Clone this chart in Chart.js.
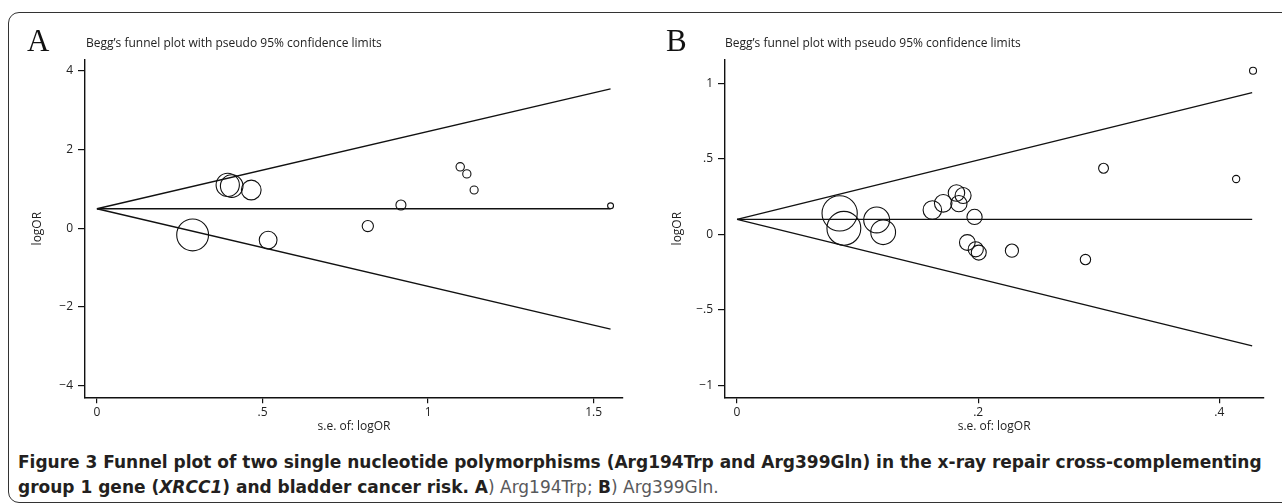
<!DOCTYPE html>
<html>
<head>
<meta charset="utf-8">
<script src="https://cdn.jsdelivr.net/npm/chart.js@4.4.1/dist/chart.umd.min.js"></script>
<style>
  html, body { margin: 0; padding: 0; background: #fff; }
  body { width: 1282px; height: 504px; position: relative; overflow: hidden; font-family: "Open Sans", sans-serif; }
  .frame { position: absolute; left: 8px; top: 12px; width: 1300px; height: 489px; border: 1.6px solid #333; border-radius: 11px; }
  canvas { position: absolute; top: 0; }
  .letter { position: absolute; font-family: "Liberation Serif", serif; font-size: 31px; line-height: 31px; color: #111; }
  .ptitle { position: absolute; font-size: 12px; line-height: 14px; color: #222; white-space: nowrap; }
  .caption { position: absolute; left: 18px; font-family: "DejaVu Sans Condensed", "DejaVu Sans", sans-serif; font-size: 17px; line-height: 22px; color: #231f20; white-space: nowrap; font-weight: bold; transform-origin: 0 50%; }
  .caption .lt { font-weight: normal; color: #58595b; }
</style>
</head>
<body>
<div class="frame"></div>
<canvas id="chartA" width="640" height="440" style="left:0"></canvas>
<canvas id="chartB" width="642" height="440" style="left:640px"></canvas>
<div class="letter" style="left:27px; top:25px">A</div>
<div class="letter" style="left:666px; top:25px">B</div>
<div class="ptitle" style="left:86px; top:36px">Begg’s funnel plot with pseudo 95% confidence limits</div>
<div class="ptitle" style="left:725px; top:36px">Begg’s funnel plot with pseudo 95% confidence limits</div>
<div class="caption" id="cap1" style="top:451px">Figure 3 Funnel plot of two single nucleotide polymorphisms (Arg194Trp and Arg399Gln) in the x-ray repair cross-complementing</div>
<div class="caption" id="cap2" style="top:476px">group 1 gene (<i>XRCC1</i>) and bladder cancer risk. A<span class="lt">) Arg194Trp; </span>B<span class="lt">) Arg399Gln.</span></div>
<script>
// Panel A: Arg194Trp
const seA = [0.289, 0.395, 0.407, 0.466, 0.517, 0.818, 0.918, 1.097, 1.117, 1.139, 1.551];
const logOrA = [-0.17, 1.10, 1.07, 0.97, -0.30, 0.056, 0.59, 1.56, 1.38, 0.97, 0.57];
const funnelSeA = [0, 1.551];
const pooledA = [0.495, 0.495];
const upperA = [0.495, 3.535];
const lowerA = [0.495, -2.56];
const xTicksA = [0, 0.5, 1, 1.5];
const xLabelsA = ['0', '.5', '1', '1.5'];
const yTicksA = [-4, -2, 0, 2, 4];
const yLabelsA = ['−4', '−2', '0', '2', '4'];

// Panel B: Arg399Gln
const seB = [0.0851, 0.0886, 0.1158, 0.1212, 0.162, 0.171, 0.182, 0.1875, 0.184, 0.197, 0.191, 0.198, 0.2005, 0.228, 0.289, 0.304, 0.414, 0.428];
const logOrB = [0.140, 0.041, 0.096, 0.015, 0.162, 0.206, 0.274, 0.258, 0.204, 0.116, -0.053, -0.098, -0.120, -0.107, -0.166, 0.438, 0.367, 1.083];
const funnelSeB = [0, 0.4273];
const pooledB = [0.1005, 0.1005];
const upperB = [0.1005, 0.938];
const lowerB = [0.1005, -0.737];
const xTicksB = [0, 0.2, 0.4];
const xLabelsB = ['0', '.2', '.4'];
const yTicksB = [-1, -0.5, 0, 0.5, 1];
const yLabelsB = ['−1', '−.5', '0', '.5', '1'];

const font = { family: '"Open Sans", sans-serif', size: 12 };

function pts(xs, ys) {
  return xs.map((x, i) => ({ x: x, y: ys[i] }));
}

function lineSet(xs, ys) {
  return {
    data: pts(xs, ys),
    showLine: true,
    borderColor: '#111',
    borderWidth: 1.3,
    pointRadius: 0,
    fill: false
  };
}

function makeFunnel(id, o) {
  new Chart(document.getElementById(id), {
    type: 'scatter',
    data: {
      datasets: [
        lineSet(o.fse, o.upper),
        lineSet(o.fse, o.pooled),
        lineSet(o.fse, o.lower),
        {
          data: pts(o.se, o.est),
          pointRadius: ctx => o.k / ctx.raw.x,
          pointBackgroundColor: 'rgba(0,0,0,0)',
          pointBorderColor: '#111',
          pointBorderWidth: 1.1
        }
      ]
    },
    options: {
      responsive: false,
      animation: false,
      devicePixelRatio: 1,
      layout: { padding: { top: 60, left: 30, right: o.padRight, bottom: 0 } },
      plugins: { legend: { display: false }, tooltip: { enabled: false } },
      scales: {
        x: {
          type: 'linear',
          min: o.xmin, max: o.xmax,
          afterBuildTicks: s => { s.ticks = o.xt.map(v => ({ value: v })); },
          afterFit: s => { s.height = 42.7; },
          grid: { drawOnChartArea: false, tickLength: 6, color: '#111', lineWidth: 1.2 },
          border: { color: '#111', width: 1.4 },
          ticks: { autoSkip: false, maxRotation: 0, padding: 2, color: '#222', font: font,
                   callback: (v, i) => o.xl[i] },
          title: { display: true, text: 's.e. of: logOR', color: '#222', font: font, padding: { top: 0, bottom: 6 } }
        },
        y: {
          type: 'linear',
          min: o.ymin, max: o.ymax,
          afterBuildTicks: s => { s.ticks = o.yt.map(v => ({ value: v })); },
          afterFit: s => { s.width = 55; },
          grid: { drawOnChartArea: false, tickLength: 7, color: '#111', lineWidth: 1.2 },
          border: { color: '#111', width: 1.4 },
          ticks: { autoSkip: false, padding: 5, color: '#222', font: font,
                   callback: (v, i) => o.yl[i] },
          title: { display: true, text: 'logOR', color: '#222', font: font, padding: 0 }
        }
      }
    }
  });
}

makeFunnel('chartA', {
  se: seA, est: logOrA, fse: funnelSeA, pooled: pooledA, upper: upperA, lower: lowerA,
  xt: xTicksA, xl: xLabelsA, yt: yTicksA, yl: yLabelsA,
  xmin: -0.036, xmax: 1.5885, ymin: -4.29, ymax: 4.27, k: 4.6, padRight: 5
});

makeFunnel('chartB', {
  se: seB, est: logOrB, fse: funnelSeB, pooled: pooledB, upper: upperB, lower: lowerB,
  xt: xTicksB, xl: xLabelsB, yt: yTicksB, yl: yLabelsB,
  xmin: -0.01, xmax: 0.4365, ymin: -1.077, ymax: 1.154, k: 1.5, padRight: 9.3
});

// squeeze the caption so its first line spans the same width as the original
const cap1 = document.getElementById('cap1');
const cap2 = document.getElementById('cap2');
const sx = 1244 / cap1.offsetWidth;
cap1.style.transform = 'scaleX(' + sx + ')';
cap2.style.transform = 'scaleX(' + sx + ')';
</script>
</body>
</html>
